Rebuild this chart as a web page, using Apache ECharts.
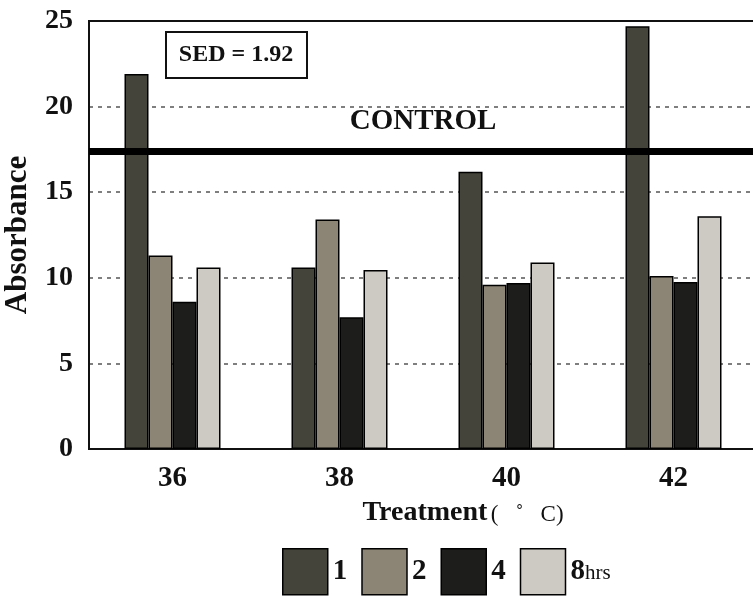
<!DOCTYPE html>
<html>
<head>
<meta charset="utf-8">
<script src="https://cdn.jsdelivr.net/npm/echarts@6/dist/echarts.min.js"></script>
<style>
  html, body { margin: 0; padding: 0; background: #fff; }
  #chart { width: 753px; height: 599px; }
</style>
</head>
<body>
<div id="chart"></div>
<script>
// treatment temperatures (°C)
var temps = ['36', '38', '40', '42'];
// exposure time series (hrs)
var seriesNames = ['1', '2', '4', '8hrs'];
var hrs1 = [21.9, 10.6, 16.2, 24.7];
var hrs2 = [11.3, 13.4, 9.6, 10.1];
var hrs4 = [8.6, 7.7, 9.7, 9.75];
var hrs8 = [10.6, 10.45, 10.9, 13.6];
var yTicks = [0, 5, 10, 15, 20, 25];
var controlValue = 17.4;
var sedText = 'SED = 1.92';

var colors = ['#44443b', '#8c8474', '#1d1d1b', '#cdc9c3'];
var serif = '"Liberation Serif", "DejaVu Serif", serif';

var chart = echarts.init(document.getElementById('chart'));

function makeBar(name, data, idx) {
    var s = {
        name: name,
        type: 'bar',
        data: data,
        barWidth: 24,
        barGap: '0%',
        itemStyle: {
            color: colors[idx],
            borderColor: '#000',
            borderWidth: 1.5
        }
    };
    if (idx === 0) {
        // 对照线
        s.markLine = {
            silent: true,
            symbol: 'none',
            lineStyle: { color: '#000', width: 7, type: 'solid' },
            label: {
                show: true,
                position: 'insideMiddleTop',
                distance: 15,
                formatter: 'CONTROL',
                color: '#111',
                fontFamily: serif,
                fontWeight: 'bold',
                fontSize: 29
            },
            data: [{ yAxis: controlValue }]
        };
    }
    return s;
}

var option = {
    animation: false,
    backgroundColor: '#fff',
    grid: {
        left: 89,
        right: -4,
        top: 21,
        bottom: 150,
        outerBoundsMode: 'none',
        containLabel: false,
        show: true,
        borderColor: '#111',
        borderWidth: 2
    },
    xAxis: {
        type: 'category',
        data: temps,
        name: '{a|Treatment} {b|(   ˚   C)}',
        nameLocation: 'middle',
        nameGap: 50,
        nameTextStyle: {
            padding: [0, 0, 0, 80],
            rich: {
                a: { fontFamily: serif, fontWeight: 'bold', fontSize: 28, color: '#111' },
                b: { fontFamily: serif, fontSize: 23, color: '#111', padding: [4, 0, 0, 0] }
            }
        },
        axisLine: { lineStyle: { color: '#111', width: 2 } },
        axisTick: { inside: true, length: 6, lineStyle: { color: '#333' } },
        axisLabel: {
            margin: 15,
            fontFamily: serif,
            fontWeight: 'bold',
            fontSize: 29,
            color: '#111'
        }
    },
    yAxis: {
        type: 'value',
        min: yTicks[0],
        max: yTicks[yTicks.length - 1],
        interval: 5,
        name: 'Absorbance',
        nameLocation: 'middle',
        nameGap: 56,
        nameTextStyle: {
            fontFamily: serif,
            fontWeight: 'bold',
            fontSize: 31,
            color: '#111'
        },
        axisLine: { show: true, lineStyle: { color: '#111', width: 2 } },
        axisTick: { show: false },
        axisLabel: {
            margin: 16,
            fontFamily: serif,
            fontWeight: 'bold',
            fontSize: 28,
            color: '#111'
        },
        splitLine: {
            showMinLine: false,
            showMaxLine: false,
            lineStyle: { color: '#555', width: 1.5, type: [4, 5] }
        }
    },
    legend: {
        data: seriesNames,
        left: 277,
        top: 543,
        itemWidth: 45,
        itemHeight: 46,
        itemGap: 14,
        icon: 'rect',
        itemStyle: { borderColor: '#000', borderWidth: 1.5 },
        formatter: function (name) {
            if (name === '8hrs') return '{n|8}{s|hrs}';
            return '{n|' + name + '}';
        },
        textStyle: {
            rich: {
                n: { fontFamily: serif, fontWeight: 'bold', fontSize: 29, color: '#111' },
                s: { fontFamily: serif, fontSize: 21, color: '#111', padding: [4, 0, 0, 0] }
            }
        }
    },
    graphic: [{
        type: 'group',
        left: 165,
        top: 31,
        children: [{
            type: 'rect',
            shape: { x: 0, y: 0, width: 141, height: 46 },
            style: { fill: '#fff', stroke: '#111', lineWidth: 2 }
        }, {
            type: 'text',
            x: 70,
            y: 23,
            style: {
                text: sedText,
                fill: '#111',
                font: 'bold 24px ' + serif,
                align: 'center',
                verticalAlign: 'middle'
            }
        }]
    }],
    series: [
        makeBar(seriesNames[0], hrs1, 0),
        makeBar(seriesNames[1], hrs2, 1),
        makeBar(seriesNames[2], hrs4, 2),
        makeBar(seriesNames[3], hrs8, 3)
    ]
};

chart.setOption(option);
</script>
</body>
</html>
